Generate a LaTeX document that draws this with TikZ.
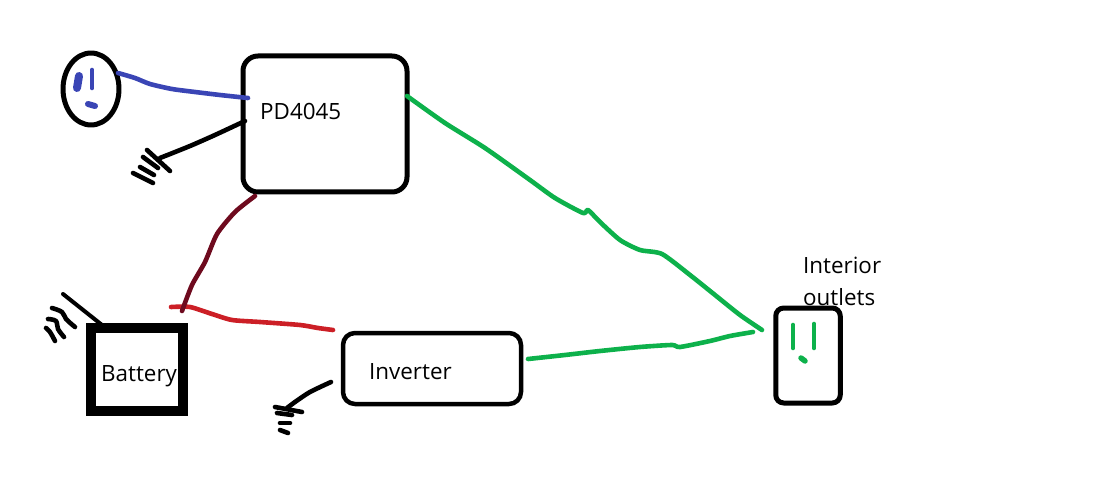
\documentclass[tikz,border=0pt]{standalone}
\usepackage{fontspec}
\setmainfont{Open Sans}
\usetikzlibrary{shapes.geometric}

\begin{document}
\begin{tikzpicture}[
            x = 1pt, y = -1pt,
            line cap = round, % felt pen ends
            line join = round
        ]

        \tikzstyle{box}=[
            draw = black,
            line width = 5pt,
            inner sep = 0pt
        ]
        \tikzstyle{word}=[
            inner sep = 0pt,
            font = \fontsize{22.4}{32}\selectfont,
            anchor = west
        ]
        \tikzstyle{pen}=[line width = 4.6pt]
        \definecolor{bluewire}{HTML}{3A45B5}
        \definecolor{redwire}{HTML}{CC1F26}
        \definecolor{darkwire}{HTML}{6E0A1E}
        \definecolor{greenwire}{HTML}{0DB14B}

        \useasboundingbox (0,0) rectangle (1096,492);

	\node[box, ellipse, minimum width = 56pt, minimum height = 72pt] (wall) at (91,89) {};
	\node[box, rounded corners = 15pt, minimum width = 164pt, minimum height = 136pt] (pd) at (325,124) {};
	\node[box, line width = 10pt, line join = miter, minimum width = 92pt, minimum height = 83pt] (battery) at (137,369.5) {};
	\node[box, line width = 4.5pt, rounded corners = 12pt, minimum width = 178pt, minimum height = 71pt] (inverter) at (432,368.5) {};
	\node[box, rounded corners = 8pt, minimum width = 64.5pt, minimum height = 95pt] (outlet) at (808,355.5) {};

	\node[word] (pdtext) at (260,111) {PD4045};
	\node[word] (batterytext) at (101,376) {Battery};
	\node[word] (invertertext) at (369,372) {Inverter};
	\node[word] (interiortext) at (803,265) {Interior};
	\node[word] (outletstext) at (803,297) {outlets};

	\coordinate (wallout) at (118,73);
	\coordinate (pdin) at (248,98);
	\coordinate (pdearth) at (245,121);
	\coordinate (pdearthend) at (160,158);
	\coordinate (pddc) at (255,196);
	\coordinate (batplus) at (182,311);
	\coordinate (batred) at (171,307);
	\coordinate (invin) at (333,330);
	\coordinate (batearth) at (102,325);
	\coordinate (batearthend) at (63,294);
	\coordinate (invearth) at (331,382);
	\coordinate (invearthend) at (287,408);
	\coordinate (pdout) at (407,96);
	\coordinate (outletin) at (762,330);
	\coordinate (invout) at (528,359);
	\coordinate (outletin2) at (753,332);

	% wires
	\draw[pen, bluewire] plot[smooth, tension = 0.4] coordinates {(wallout) (135,78) (150,84) (172,89) (195,92) (220,95) (pdin)};
	\draw[pen, black] plot[smooth, tension = 0.4] coordinates {(pdearth) (215,135) (190,146) (pdearthend)};
	\draw[pen, redwire] plot[smooth, tension = 0.4] coordinates {(batred) (190,307) (212,314) (232,320) (260,322) (300,325) (318,328) (invin)};
	\draw[pen, darkwire] plot[smooth, tension = 0.4] coordinates {(pddc) (235,212) (217,234) (205,262) (192,285) (batplus)};
	\draw[pen, black, line width = 4pt] (batearth) -- (batearthend);
	\draw[pen, black] plot[smooth, tension = 0.4] coordinates {(invearth) (310,392) (295,402) (invearthend)};
	\draw[pen, greenwire] plot[smooth, tension = 0.4] coordinates {(pdout) (445,123) (485,148) (530,180) (555,198) (583,213) (588,210) (600,222) (620,240) (640,250) (662,254) (690,275) (715,295) (740,315) (outletin)};
	\draw[pen, greenwire] plot[smooth, tension = 0.4] coordinates {(invout) (565,355) (600,351) (640,347) (672,345) (680,347) (710,341) (730,336) (outletin2)};

	% earth marks
	\foreach \xa/\ya/\xb/\yb in {147/150/170/171, 143/157/158/168, 140/167/154/175, 133/173/153/183, 275/407/302/412, 277/413/292/415, 280/423/290/423, 280/430/288/433}
		\draw[pen, black] (\xa,\ya) -- (\xb,\yb);
	\draw[pen, black] plot[smooth, tension = 0.6] coordinates {(52,308) (62,312) (66,319) (75,327)};
	\draw[pen, black] plot[smooth, tension = 0.6] coordinates {(48,319) (56,321) (58,329) (64,337)};
	\draw[pen, black] plot[smooth, tension = 0.6] coordinates {(46,328) (50,332) (55,341)};

	% slots
	\draw[bluewire, line width = 8pt] (79,76) -- (77,88);
	\draw[pen, bluewire] (92,70) -- (92,88);
	\draw[bluewire, line width = 6pt] (88,104) -- (95,106);
	\draw[pen, greenwire] (793,325) -- (793,348);
	\draw[pen, greenwire] (814,324) -- (814,348);
	\draw[greenwire, line width = 5.5pt] (801,358) -- (805,361);

    \end{tikzpicture}
\end{document}
